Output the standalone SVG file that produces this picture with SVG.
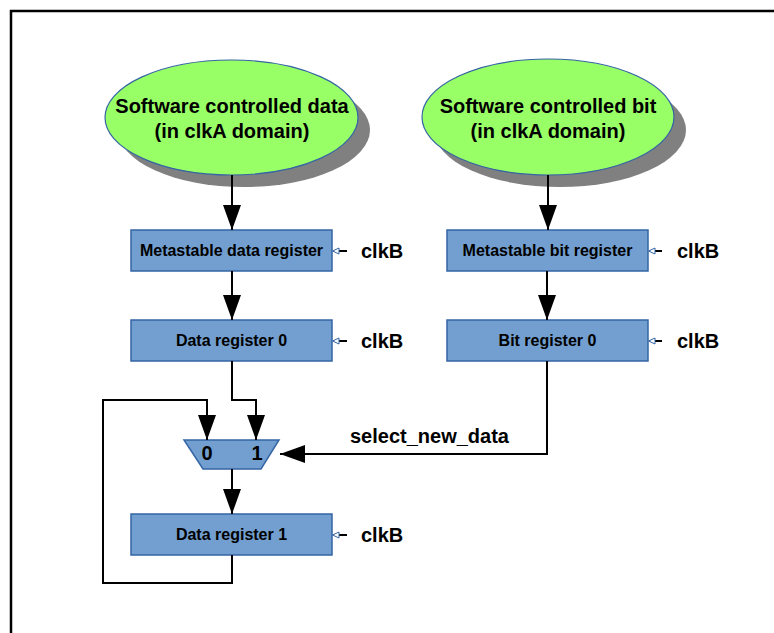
<svg xmlns="http://www.w3.org/2000/svg" width="774" height="633" viewBox="0 0 774 633">
<defs>
<style>
.t{font-family:"Liberation Sans",Arial,sans-serif;font-weight:bold;fill:#000}
.ell{fill:#99ff66;stroke:#3465a4;stroke-width:1.2}
.sh{fill:#808080}
.box{fill:#729fcf;stroke:#3465a4;stroke-width:1.5}
.w{fill:none;stroke:#000;stroke-width:2}
.ck{fill:#fff;stroke:#3465a4;stroke-width:1}
</style>
<marker id="ah" markerUnits="userSpaceOnUse" markerWidth="26" markerHeight="18" refX="25" refY="9" orient="auto" viewBox="0 0 26 18">
<path d="M0,0 L25,9 L0,18 z" fill="#000"/>
</marker>
</defs>
<rect width="774" height="633" fill="#fff"/>
<path d="M11,640 L11,11 L780,11" fill="none" stroke="#000" stroke-width="2.5"/>

<g id="sw_data">
<ellipse class="sh" cx="244" cy="130" rx="126" ry="57"/>
<ellipse class="ell" cx="231.5" cy="117.5" rx="126.5" ry="57.5"/>
<text class="t" x="232" y="113" font-size="20" text-anchor="middle">Software controlled data</text>
<text class="t" x="232" y="138" font-size="20" text-anchor="middle">(in clkA domain)</text>
</g>
<g id="sw_bit">
<ellipse class="sh" cx="560" cy="130" rx="126" ry="57"/>
<ellipse class="ell" cx="548" cy="117" rx="126" ry="58"/>
<text class="t" x="548" y="113" font-size="20" text-anchor="middle">Software controlled bit</text>
<text class="t" x="548" y="138" font-size="20" text-anchor="middle">(in clkA domain)</text>
</g>

<g id="meta_data">
<rect class="box" x="131" y="230" width="201" height="41"/>
<text class="t" x="231.5" y="256" font-size="16" text-anchor="middle">Metastable data register</text>
</g>
<g id="data_reg0">
<rect class="box" x="131" y="320" width="201" height="41"/>
<text class="t" x="231.5" y="346" font-size="16" text-anchor="middle">Data register 0</text>
</g>
<g id="meta_bit">
<rect class="box" x="447" y="230" width="201" height="41"/>
<text class="t" x="547.5" y="256" font-size="16" text-anchor="middle">Metastable bit register</text>
</g>
<g id="bit_reg0">
<rect class="box" x="447" y="320" width="201" height="41"/>
<text class="t" x="547.5" y="346" font-size="16" text-anchor="middle">Bit register 0</text>
</g>
<g id="mux">
<polygon class="box" points="184,440 279,440 261,469 203,469"/>
<text class="t" x="207" y="460" font-size="20" text-anchor="middle">0</text>
<text class="t" x="257" y="460" font-size="20" text-anchor="middle">1</text>
</g>
<g id="data_reg1">
<rect class="box" x="131" y="514" width="201" height="41"/>
<text class="t" x="231.5" y="540" font-size="16" text-anchor="middle">Data register 1</text>
</g>

<g id="clocks">
<line class="w" x1="347" y1="251" x2="334" y2="251"/>
<polygon class="ck" points="332.5,251 339,248 339,254"/>
<text class="t" x="361" y="258" font-size="20">clkB</text>
<line class="w" x1="347" y1="341" x2="334" y2="341"/>
<polygon class="ck" points="332.5,341 339,338 339,344"/>
<text class="t" x="361" y="348" font-size="20">clkB</text>
<line class="w" x1="662" y1="251" x2="650" y2="251"/>
<polygon class="ck" points="648.5,251 655,248 655,254"/>
<text class="t" x="677" y="258" font-size="20">clkB</text>
<line class="w" x1="662" y1="341" x2="650" y2="341"/>
<polygon class="ck" points="648.5,341 655,338 655,344"/>
<text class="t" x="677" y="348" font-size="20">clkB</text>
<line class="w" x1="347" y1="535" x2="334" y2="535"/>
<polygon class="ck" points="332.5,535 339,532 339,538"/>
<text class="t" x="361" y="542" font-size="20">clkB</text>
</g>

<g id="connectors">
<path class="w" d="M232,175 L232,230" marker-end="url(#ah)"/>
<path class="w" d="M548,175 L548,230" marker-end="url(#ah)"/>
<path class="w" d="M232,271 L232,320" marker-end="url(#ah)"/>
<path class="w" d="M547,271 L547,320" marker-end="url(#ah)"/>
<path class="w" d="M232,361 L232,400 L256,400 L256,440" marker-end="url(#ah)"/>
<path class="w" d="M232,555 L232,583 L103,583 L103,400 L207,400 L207,440" marker-end="url(#ah)"/>
<path class="w" d="M547,361 L547,454 L280,454" marker-end="url(#ah)"/>
<path class="w" d="M232,469 L232,514" marker-end="url(#ah)"/>
<text class="t" x="350" y="443" font-size="20">select_new_data</text>
</g>
</svg>
